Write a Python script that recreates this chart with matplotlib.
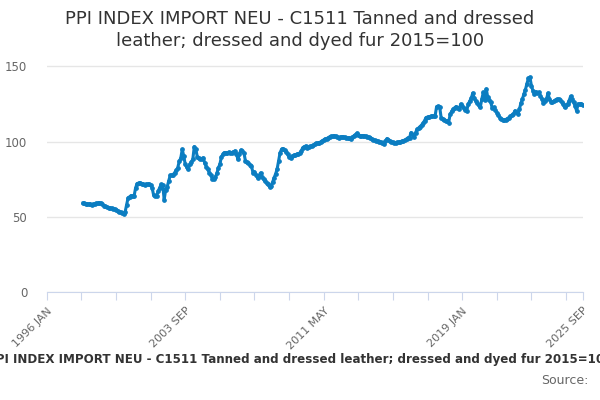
import numpy as np
import pandas as pd
import matplotlib
matplotlib.use('Agg')
import matplotlib.pyplot as plt

# monthly index values, 1998 JAN .. 2025 SEP
v1998 = [59.2, 59.0, 58.8, 58.7, 58.6, 58.4, 58.2, 58.5, 58.7, 59.0, 59.2, 59.4]
v1999 = [59.3, 58.4, 57.5, 57.0, 56.6, 56.3, 56.0, 55.8, 55.6, 55.3, 54.8, 54.2]
v2000 = [53.6, 53.1, 52.7, 52.2, 53.2, 58.0, 62.7, 63.4, 64.2, 63.8, 64.0, 69.3]
v2001 = [72.2, 72.5, 72.7, 72.2, 71.6, 71.2, 71.7, 71.8, 71.6, 71.3, 69.3, 64.4]
v2002 = [64.0, 64.2, 67.0, 69.5, 71.6, 71.0, 61.6, 68.2, 70.0, 74.0, 77.6, 77.8]
v2003 = [78.2, 79.5, 81.0, 82.7, 87.0, 89.0, 94.9, 90.4, 84.9, 83.0, 81.6, 85.0]
v2004 = [86.5, 88.2, 96.7, 94.9, 90.0, 89.0, 88.2, 88.8, 89.3, 85.6, 83.5, 81.6]
v2005 = [79.5, 78.2, 75.3, 74.9, 76.5, 78.9, 82.7, 84.9, 90.0, 91.5, 92.7, 92.7]
v2006 = [92.7, 93.0, 92.5, 92.7, 93.2, 93.8, 92.0, 88.2, 92.0, 94.4, 93.5, 92.5]
v2007 = [87.1, 86.2, 85.6, 84.7, 83.8, 79.3, 80.0, 78.2, 76.0, 77.5, 79.3, 76.7]
v2008 = [75.0, 73.8, 72.5, 71.6, 70.0, 70.8, 73.0, 76.0, 78.5, 81.6, 87.0, 92.7]
v2009 = [95.0, 95.3, 94.4, 93.0, 91.6, 89.8, 89.3, 90.2, 90.9, 91.2, 91.6, 92.0]
v2010 = [92.4, 93.5, 96.0, 96.6, 97.1, 95.6, 96.2, 96.8, 97.1, 97.6, 98.4, 98.9]
v2011 = [99.0, 99.4, 99.8, 100.5, 101.2, 101.8, 102.0, 102.6, 103.3, 103.5, 103.6, 103.8]
v2012 = [103.6, 103.2, 102.7, 103.0, 103.3, 103.1, 102.8, 102.4, 102.2, 102.5, 102.0, 102.8]
v2013 = [103.8, 104.5, 105.6, 104.5, 103.8, 103.9, 104.0, 103.7, 103.6, 103.2, 103.0, 102.7]
v2014 = [101.8, 101.1, 100.9, 100.6, 100.4, 100.0, 99.6, 99.3, 98.2, 100.5, 102.0, 101.2]
v2015 = [100.4, 99.8, 99.5, 99.3, 99.2, 99.5, 99.8, 100.0, 100.3, 100.7, 101.1, 101.8]
v2016 = [102.5, 102.7, 106.0, 104.5, 103.3, 106.0, 108.2, 109.0, 110.0, 111.0, 112.2, 114.0]
v2017 = [116.0, 116.3, 116.5, 116.7, 116.9, 117.0, 117.1, 123.3, 123.4, 123.3, 116.0, 115.2]
v2018 = [114.6, 114.0, 113.6, 112.7, 118.2, 120.0, 121.6, 122.5, 123.3, 122.0, 121.5, 124.9]
v2019 = [123.5, 122.0, 121.0, 120.4, 124.9, 126.8, 128.7, 132.2, 128.7, 127.0, 125.6, 124.0]
v2020 = [122.7, 128.0, 132.7, 127.8, 134.9, 129.3, 127.5, 126.0, 122.0, 122.7, 121.0, 119.3]
v2021 = [117.5, 116.0, 114.9, 114.5, 114.2, 114.6, 115.3, 116.0, 116.8, 117.5, 118.2, 120.4]
v2022 = [119.5, 118.2, 121.5, 125.5, 128.2, 131.6, 134.4, 138.5, 142.0, 142.7, 137.1, 133.8]
v2023 = [131.6, 133.1, 132.5, 132.7, 130.5, 128.2, 125.6, 127.0, 128.2, 132.2, 128.2, 126.5]
v2024 = [126.0, 127.0, 127.8, 128.0, 128.2, 127.5, 126.4, 125.0, 122.7, 124.0, 124.9, 127.0]
v2025 = [130.0, 128.2, 126.0, 123.8, 120.4, 124.9, 125.0, 125.3, 124.2]

values = (v1998 + v1999 + v2000 + v2001 + v2002 + v2003 + v2004 + v2005 + v2006
          + v2007 + v2008 + v2009 + v2010 + v2011 + v2012 + v2013 + v2014 + v2015
          + v2016 + v2017 + v2018 + v2019 + v2020 + v2021 + v2022 + v2023 + v2024 + v2025)
dates = pd.date_range('1998-01-01', periods=len(values), freq='MS')

tick_labels = ['1996 JAN', '2003 SEP', '2011 MAY', '2019 JAN', '2025 SEP']
title = 'PPI INDEX IMPORT NEU - C1511 Tanned and dressed leather; dressed and dyed fur 2015=100'

# month number counted from 1996 JAN
mx = (dates.year - 1996) * 12 + dates.month - 1
end_m = (2025 - 1996) * 12 + 8

fig = plt.figure(figsize=(6, 4), dpi=100)
ax = fig.add_axes([0.078, 0.269, 0.893, 0.603])

ax.plot(mx, values, color='#0b7dc1', lw=2.2, marker='o', ms=2.4, zorder=3)

ax.set_xlim(0, end_m)
ax.set_ylim(0, 160)
ax.set_yticks([0, 50, 100, 150])
ax.grid(axis='y', color='#e6e6e6', lw=1)
ax.set_axisbelow(True)

ticks = list(range(0, end_m, 23)) + [end_m]
ax.set_xticks(ticks)
lab = ['' for t in ticks]
for i, t in enumerate(ticks):
    if t % 92 == 0:
        lab[i] = tick_labels[t // 92]
lab[-1] = tick_labels[-1]
ax.set_xticklabels(lab, rotation=45, ha='right', rotation_mode='anchor')

for s in ['top', 'right', 'left']:
    ax.spines[s].set_visible(False)
ax.spines['bottom'].set_color('#ccd6eb')
ax.tick_params(axis='x', colors='#ccd6eb', length=6, labelcolor='#666666', labelsize=8)
ax.tick_params(axis='y', length=0, labelcolor='#666666', labelsize=8.5, pad=14)

fig.text(0.5, 0.975, 'PPI INDEX IMPORT NEU - C1511 Tanned and dressed\nleather; dressed and dyed fur 2015=100',
         ha='center', va='top', fontsize=13, color='#333333', linespacing=1.25)
fig.text(0.5, 0.1, title, ha='center', va='center', fontsize=8.6, color='#333333', weight='semibold')
fig.text(0.98, 0.05, 'Source:', ha='right', va='center', fontsize=9, color='#666666')

fig.savefig('out.png', dpi=100)
